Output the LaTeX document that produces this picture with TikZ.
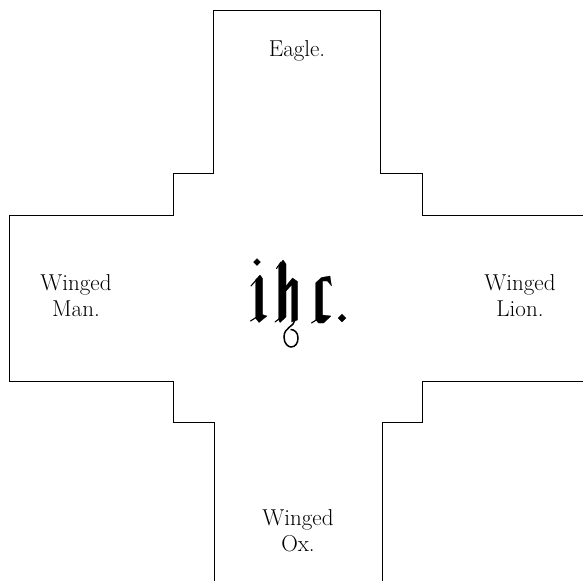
\documentclass[tikz,border=0pt]{standalone}
\begin{document}
\begin{tikzpicture}[x=1pt,y=-1pt,
  outline/.style={line width=0.8pt,line join=miter},
  lbl/.style={font=\fontsize{23}{26}\selectfont,align=center,inner sep=0pt},
  ink/.style={fill=black,draw=black,line width=0.3pt,line join=round},
  hair/.style={line width=1.1pt,line cap=round}]
\useasboundingbox (0,0) rectangle (583,581);
% cross outline
\draw[outline] (214,581) -- (214,422) -- (173,422) -- (173,381) -- (9,381) -- (9,215)
  -- (173,215) -- (173,173) -- (213,173) -- (213,10) -- (380,10) -- (380,173)
  -- (422,173) -- (422,215) -- (583,215);
\draw[outline] (583,381) -- (422,381) -- (422,422) -- (382,422) -- (382,581);
% labels
\node[lbl,anchor=base] (eagle) at (297,56) {Eagle.};
\node[lbl] (man) at (76,296) {Winged\\Man.};
\node[lbl] (lion) at (520,296) {Winged\\Lion.};
\node[lbl] (ox) at (298,531) {Winged\\Ox.};
% monogram "ihc." drawn in blackletter strokes
% i
\fill[ink] (257,258.5) -- (260.5,262) -- (257,265.5) -- (253.5,262) -- cycle;
\fill[ink] (255.5,280) -- (260,275) -- (262.5,278.5) -- (262.5,314.5) -- (267,316) -- (259,322.5) -- (255.5,318) -- cycle;
\draw[hair] (251,286) -- (257,279);
\draw[hair] (250.5,321) -- (256,317.5);
% h
\fill[ink] (278.5,266) -- (283,260) -- (286,264) -- (286,317) -- (280,322.5) -- (278.5,319.5) -- cycle;
\draw[hair] (276.5,268.5) -- (281,262);
\draw[hair] (275,322) -- (279.5,318.5);
\fill[ink] (286,286) -- (292.5,278) -- (297.5,281.5) -- (297.5,320) -- (291.5,322) -- (291.5,285) -- (286,291) -- cycle;
\draw[line width=1.5pt] (295,320) .. controls (294,327) and (284,327) .. (284,337)
  .. controls (284,344) and (288.5,347) .. (291,347)
  .. controls (295.5,347) and (298,343) .. (298,338)
  .. controls (298,332) and (294,329.5) .. (290.5,329.5);
% c
\fill[ink] (315.5,283) -- (321.5,277.5) -- (330,276) -- (331.5,286) -- (327.5,281) -- (322.5,281) -- (322.5,315)
  -- (331,316) -- (323.5,323) -- (318.5,323) -- (315.5,319.5) -- cycle;
\draw[hair] (311.5,323) -- (317,319.5);
% period
\fill[ink] (342,314) -- (346,318) -- (342,322) -- (338,318) -- cycle;
\end{tikzpicture}
\end{document}
